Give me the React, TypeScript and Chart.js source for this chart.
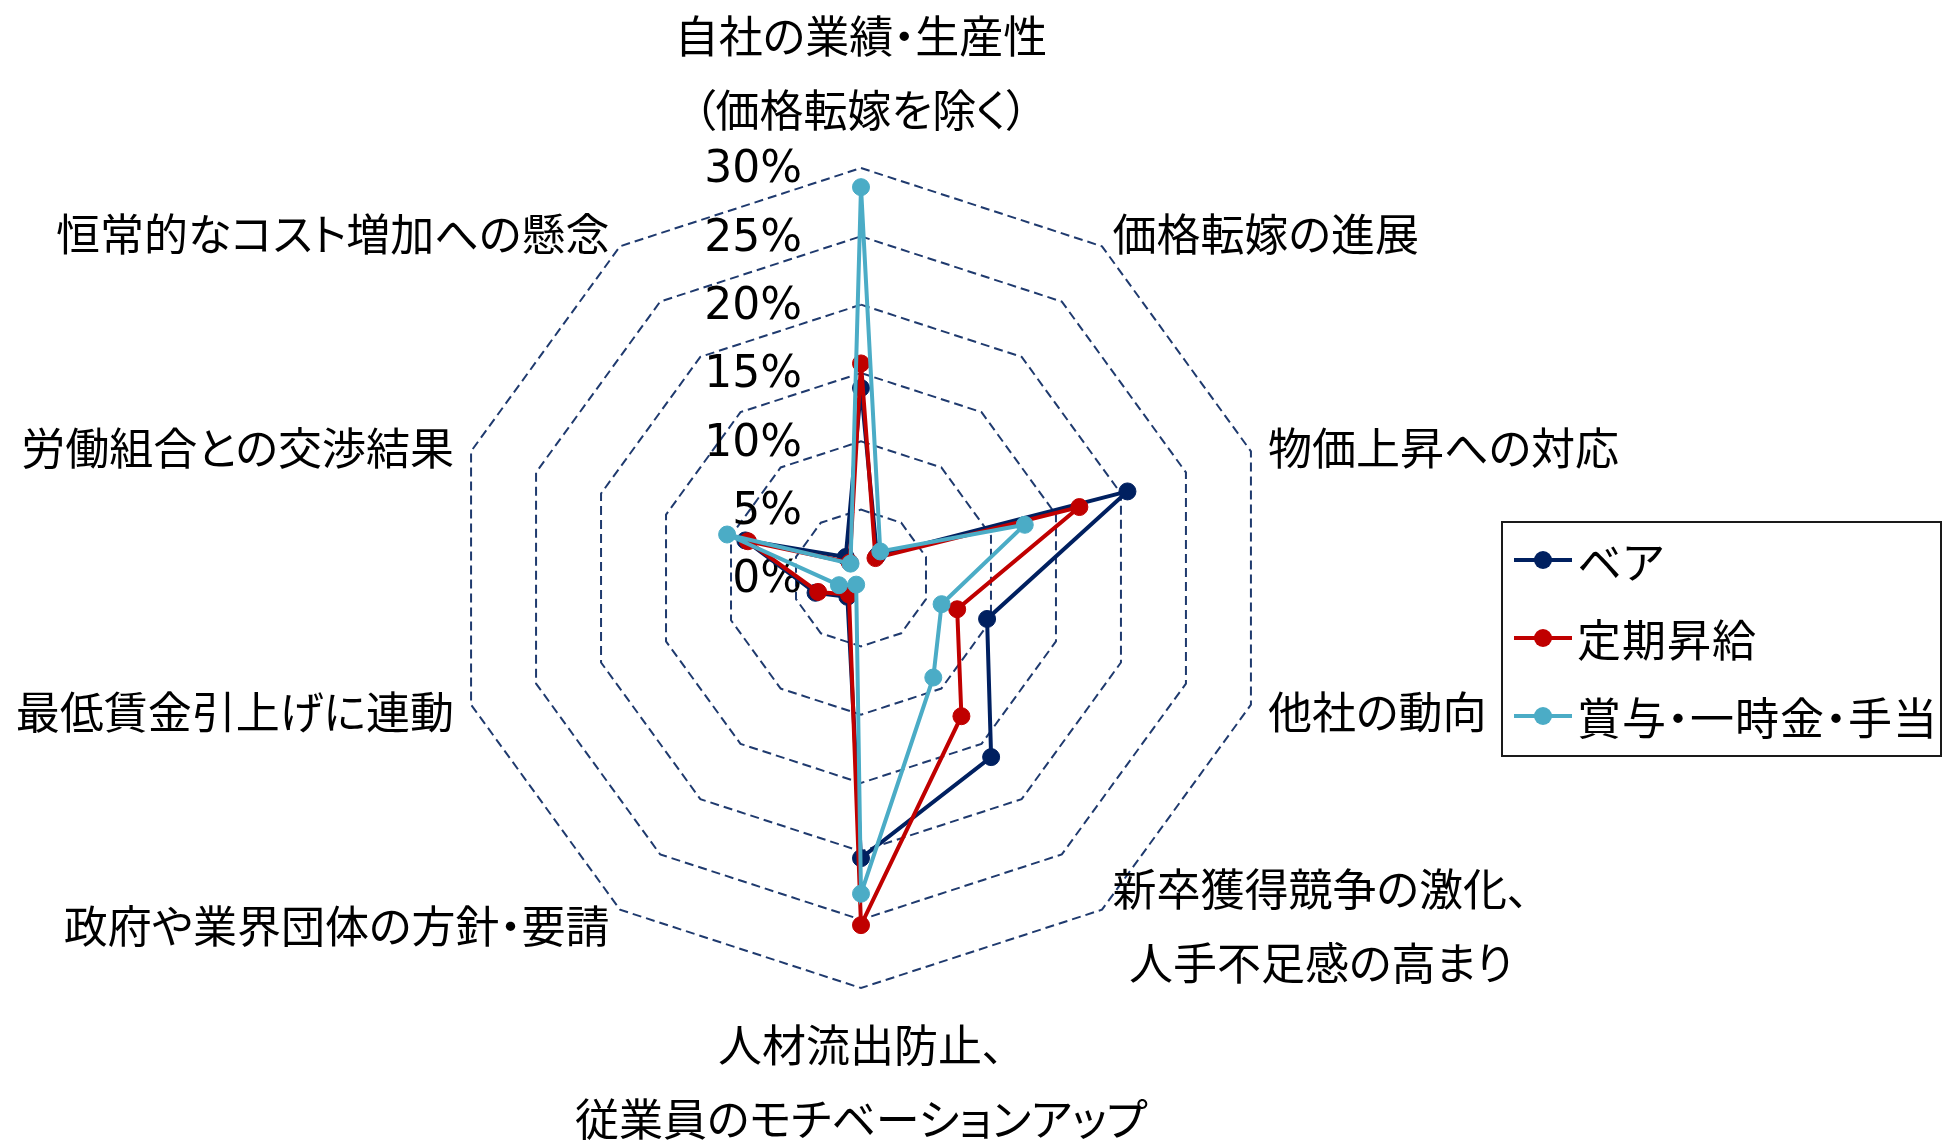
import React, { useEffect, useRef, useState } from 'react';
import { Chart, registerables } from 'chart.js';

Chart.register(...registerables);

// ---- data ----
const CATEGORIES: string[][] = [
  ['自社の業績・生産性', '（価格転嫁を除く）'],
  ['価格転嫁の進展'],
  ['物価上昇への対応'],
  ['他社の動向'],
  ['新卒獲得競争の激化、', '人手不足感の高まり'],
  ['人材流出防止、', '従業員のモチベーションアップ'],
  ['政府や業界団体の方針・要請'],
  ['最低賃金引上げに連動'],
  ['労働組合との交渉結果'],
  ['恒常的なコスト増加への懸念'],
];

const SERIES_NAMES = ['ベア', '定期昇給', '賞与・一時金・手当'];
const SERIES_COLORS = ['#002060', '#C00000', '#4BACC6'];

const BASE_UP = [13.9, 2.0, 20.5, 9.7, 16.2, 20.5, 1.7, 3.5, 8.9, 1.9];
const REGULAR_RAISE = [15.7, 1.8, 16.8, 7.4, 12.5, 25.4, 1.5, 3.3, 8.7, 1.4];
const BONUS = [28.6, 2.4, 12.6, 6.2, 9.0, 23.1, 0.6, 1.7, 10.3, 1.3];

const TICK_LABELS = ['0%', '5%', '10%', '15%', '20%', '25%', '30%'];
const AXIS_MIN = 0;
const AXIS_MAX = 30;
const AXIS_STEP = 5;

const JP_FONT = '"Noto Sans CJK JP", "Noto Sans", sans-serif';
const NUM_FONT = '"DejaVu Sans", sans-serif';
const LINE_H = 74;

type LabelPos = { x: number; y: number; tx: string; ty: string; lines: string[] };

const tickPlugin = {
  id: 'tickText',
  beforeDatasetsDraw(chart: any) {
    const scale = chart.scales.r;
    const ctx = chart.ctx;
    ctx.save();
    ctx.font = `44px ${NUM_FONT}`;
    ctx.fillStyle = '#000000';
    ctx.textAlign = 'right';
    ctx.textBaseline = 'middle';
    scale.ticks.forEach((t: any, i: number) => {
      const p = scale.getPointPositionForValue(0, t.value);
      ctx.fillText(TICK_LABELS[i] ?? '', scale.xCenter - 59, p.y + 3);
    });
    ctx.restore();
  },
};

function LegendMarker({ color }: { color: string }) {
  return (
    <svg width={60} height={20} style={{ display: 'block', flex: 'none' }}>
      <line x1={1} y1={10} x2={59} y2={10} stroke={color} strokeWidth={4} />
      <circle cx={30} cy={10} r={9} fill={color} />
    </svg>
  );
}

export default function App() {
  const ref = useRef<HTMLCanvasElement | null>(null);
  const [labels, setLabels] = useState<LabelPos[]>([]);

  useEffect(() => {
    if (!ref.current) return;
    const seriesData = [BASE_UP, REGULAR_RAISE, BONUS];
    const chart = new Chart(ref.current, {
      type: 'radar',
      data: {
        labels: CATEGORIES as any,
        datasets: seriesData.map((d, k) => ({
          label: SERIES_NAMES[k],
          data: d,
          borderColor: SERIES_COLORS[k],
          backgroundColor: SERIES_COLORS[k],
          pointBackgroundColor: SERIES_COLORS[k],
          pointBorderColor: SERIES_COLORS[k],
          borderWidth: 4,
          pointRadius: 8.5,
          pointBorderWidth: 1,
          fill: false,
          tension: 0,
          order: 3 - k,
        })),
      },
      options: {
        responsive: false,
        animation: false,
        devicePixelRatio: 1,
        layout: { padding: { left: 451, right: 673, top: 168, bottom: 156 } },
        plugins: {
          legend: { display: false },
          tooltip: { enabled: false },
          title: { display: false },
        },
        scales: {
          r: {
            min: AXIS_MIN,
            max: AXIS_MAX,
            ticks: { stepSize: AXIS_STEP, display: false },
            pointLabels: { display: false },
            angleLines: { display: false },
            grid: {
              circular: false,
              color: '#1F3A6E',
              lineWidth: 2,
              borderDash: [9, 5],
            },
            border: { dash: [9, 5] },
          },
        },
      } as any,
      plugins: [tickPlugin],
    });

    const scale: any = chart.scales.r;
    const pos: LabelPos[] = CATEGORIES.map((lines, i) => {
      const a = scale.getPointPosition(i, scale.drawingArea + 18);
      const angle = scale.getIndexAngle(i);
      const s = Math.sin(angle);
      const c = Math.cos(angle);
      let tx = '0%';
      let ty = '-50%';
      if (Math.abs(s) < 0.05) {
        tx = '-50%';
        ty = c > 0 ? 'calc(-100% - 5px)' : '0%';
      } else if (s < 0) {
        tx = '-100%';
      }
      return { x: a.x, y: a.y, tx, ty, lines };
    });
    setLabels(pos);
    return () => chart.destroy();
  }, []);

  const textStyle: React.CSSProperties = {
    fontFamily: JP_FONT,
    fontSize: 44,
    lineHeight: `${LINE_H}px`,
    color: '#000',
    whiteSpace: 'nowrap',
    fontFeatureSettings: '"palt"',
  };

  return (
    <div style={{ position: 'fixed', left: 0, top: 0, width: 1944, height: 1144, background: '#fff', overflow: 'hidden' }}>
      <canvas ref={ref} width={1944} height={1144} style={{ display: 'block' }} />
      {labels.map((l, i) => (
        <div
          key={i}
          style={{
            ...textStyle,
            position: 'absolute',
            left: l.x,
            top: l.y,
            transform: `translate(${l.tx}, ${l.ty})`,
            textAlign: 'center',
          }}
        >
          {l.lines.map((ln, k) => (
            <div key={k}>{ln}</div>
          ))}
        </div>
      ))}
      <div
        style={{
          position: 'absolute',
          left: 1501,
          top: 521,
          width: 441,
          height: 236,
          boxSizing: 'border-box',
          border: '2px solid #1a1a1a',
        }}
      >
        <div style={{ marginTop: -2 }}>
          {SERIES_NAMES.map((name, k) => (
            <div
              key={k}
              style={{
                ...textStyle,
                display: 'flex',
                alignItems: 'center',
                height: 78,
                paddingLeft: 10,
              }}
            >
              <LegendMarker color={SERIES_COLORS[k]} />
              <span style={{ marginLeft: 4, letterSpacing: 1 }}>{name}</span>
            </div>
          ))}
        </div>
      </div>
    </div>
  );
}
